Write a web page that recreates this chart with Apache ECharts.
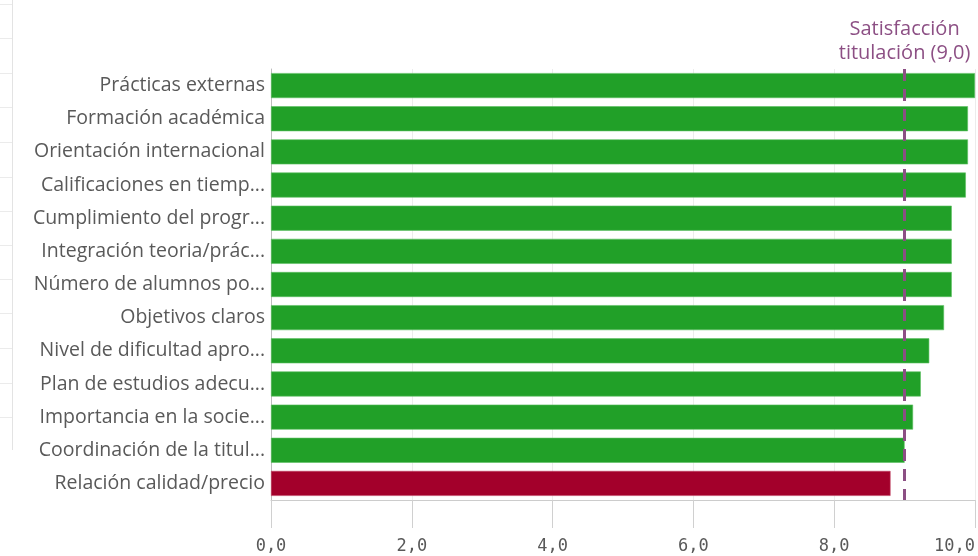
<!DOCTYPE html>
<html>
<head>
<meta charset="utf-8">
<script src="https://cdn.jsdelivr.net/npm/echarts@6/dist/echarts.min.js"></script>
<style>
html,body{margin:0;padding:0;background:#fff;}
#c{width:978px;height:556px;}
</style>
</head>
<body>
<div id="c"></div>
<script>
// Category labels exactly as displayed (truncated in the original view)
const categories = [
  'Prácticas externas',
  'Formación académica',
  'Orientación internacional',
  'Calificaciones en tiemp...',
  'Cumplimiento del progr...',
  'Integración teoria/prác...',
  'Número de alumnos po...',
  'Objetivos claros',
  'Nivel de dificultad apro...',
  'Plan de estudios adecu...',
  'Importancia en la socie...',
  'Coordinación de la titul...',
  'Relación calidad/precio'
];
const values = [10.0, 9.9, 9.9, 9.87, 9.67, 9.67, 9.67, 9.56, 9.35, 9.23, 9.12, 9.0, 8.8];
const reference = 9.0;
const referenceLabel = ['Satisfacción', 'titulación (9,0)'];
const xTicks = [0, 2, 4, 6, 8, 10];

const GREEN = '#21a028';
const RED = '#a3002b';
const PURPLE = '#8c4f84';
const GRAY = '#595959';

const chart = echarts.init(document.getElementById('c'), null, {renderer: 'canvas'});
const sideLines = [];
sideLines.push({type: 'line', shape: {x1: 12.5, y1: 0, x2: 12.5, y2: 450}, style: {stroke: '#e3e3e3', lineWidth: 1}, silent: true});
[4, 38, 73, 107, 142, 177, 211, 245, 279, 313, 348, 383, 417].forEach(y => {
  sideLines.push({type: 'line', shape: {x1: 0, y1: y + 0.5, x2: 12, y2: y + 0.5}, style: {stroke: '#ebebeb', lineWidth: 1}, silent: true});
});

chart.setOption({
  animation: false,
  backgroundColor: '#fff',
  graphic: sideLines,
  grid: {left: 271, right: 3, top: 69, bottom: 56, containLabel: false, outerBoundsMode: 'none'},
  xAxis: {
    type: 'value', min: 0, max: 10, interval: 2,
    axisLine: {show: true, lineStyle: {color: '#cccccc', width: 1}},
    axisTick: {show: true, length: 28, lineStyle: {color: '#d0d0d0', width: 1}},
    splitLine: {show: true, lineStyle: {color: '#ececec', width: 1}},
    axisLabel: {
      margin: 38, color: GRAY, fontSize: 17, fontFamily: 'DejaVu Sans Mono',
      alignMaxLabel: 'right',
      formatter: v => xTicks.includes(v) ? v.toFixed(1).replace('.', ',') : ''
    }
  },
  yAxis: {
    type: 'category', data: categories, inverse: true,
    axisLine: {show: true, lineStyle: {color: '#bdbdbd', width: 1}},
    axisTick: {show: false},
    axisLabel: {margin: 6, color: GRAY, fontSize: 19.5, fontFamily: 'Open Sans'}
  },
  series: [{
    type: 'bar',
    barWidth: 25,
    data: values.map(v => ({
      value: v,
      itemStyle: {color: v < reference ? RED : GREEN, borderColor: v < reference ? '#c0405f' : '#5cbf62', borderWidth: 0.6}
    })),
    markLine: {
      symbol: 'none',
      silent: true,
      data: [{xAxis: reference}],
      lineStyle: {color: PURPLE, type: [12, 8], width: 3},
      label: {
        show: true, position: 'start', distance: 4,
        formatter: referenceLabel.join('\n'),
        color: PURPLE, fontSize: 20, lineHeight: 24, fontFamily: 'Open Sans', align: 'center'
      }
    }
  }]
});
</script>
</body>
</html>
